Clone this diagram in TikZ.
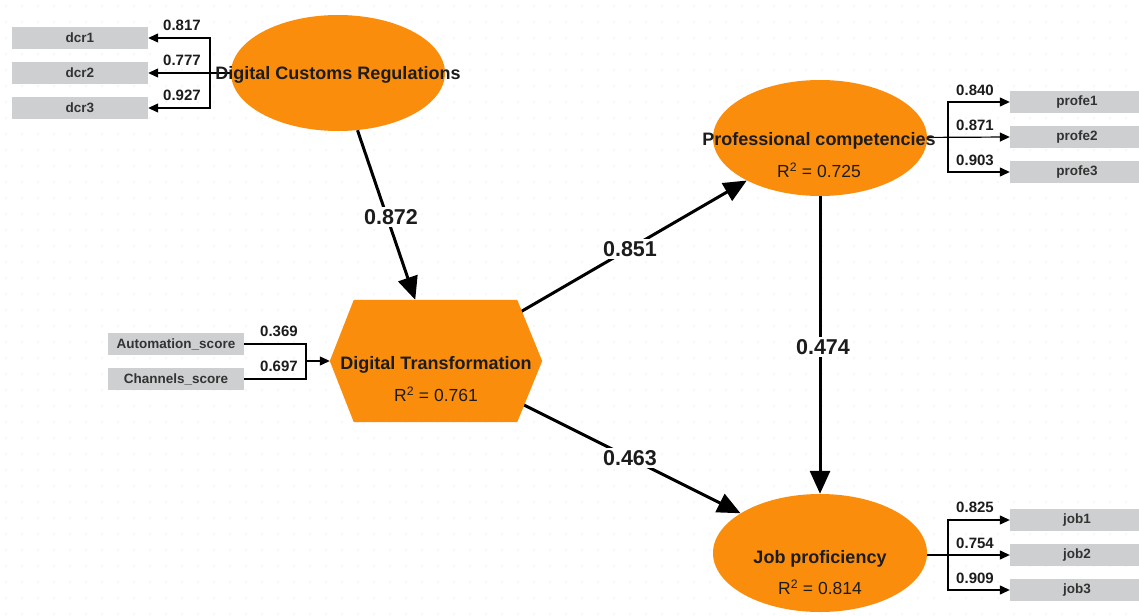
\documentclass[tikz,border=0pt]{standalone}
\usepackage{fontspec}
\setmainfont{Liberation Sans}
\usetikzlibrary{arrows.meta,shapes.geometric}
\pgfdeclarelayer{bg}
\pgfsetlayers{bg,main}
\definecolor{pls}{RGB}{250,142,12}
\definecolor{ind}{RGB}{205,207,208}
\definecolor{txt}{RGB}{28,28,28}
\begin{document}
\begin{tikzpicture}[x=1pt,y=-1pt,
 lv/.style={ellipse,fill=pls,inner sep=0pt,minimum width=214pt,minimum height=116pt},
 mv/.style={fill=ind,inner sep=0pt,minimum width=136pt,minimum height=22pt,font=\fontsize{13.5}{15}\selectfont\bfseries,text=black!80},
 lvt/.style={font=\fontsize{18}{20}\selectfont\bfseries,text=txt,inner sep=0pt},
 rt/.style={font=\fontsize{17.5}{20}\selectfont,text=txt,inner sep=0pt},
 pth/.style={line width=3pt,-{Triangle[length=23pt,width=20pt]}},
 ld/.style={line width=1.2pt,-{Triangle[length=10pt,width=9pt]}},
 ldn/.style={line width=1.2pt},
 coef/.style={fill=white,inner sep=2pt,font=\fontsize{21.5}{23}\selectfont\bfseries,text=txt},
 lw/.style={font=\fontsize{15}{17}\selectfont\bfseries,inner sep=0pt,text=txt}
]
\useasboundingbox (0,0) rectangle (1139,615);

% latent variables
\node[lv] (dcr) at (338,73) {};
\node[lv] (pc) at (820,138) {};
\node[lv,minimum height=118pt] (jp) at (820,553) {};
\node[inner sep=0pt,minimum width=212pt,minimum height=122pt] (dt) at (436,361) {};
\fill[pls] (dt.west) -- ([xshift=24pt]dt.north west) -- ([xshift=-25pt]dt.north east)
  -- (dt.east) -- ([xshift=-25pt]dt.south east) -- ([xshift=24pt]dt.south west) -- cycle;

% indicators
\node[mv] (dcr1) at (80,38) {dcr1};
\node[mv] (dcr2) at (80,73) {dcr2};
\node[mv] (dcr3) at (80,108) {dcr3};
\node[mv] (auto) at (176,344) {Automation\_score};
\node[mv] (chan) at (176,379) {Channels\_score};
\node[mv,minimum width=134pt] (p1) at (1077,102) {profe1};
\node[mv,minimum width=134pt] (p2) at (1077,137) {profe2};
\node[mv,minimum width=134pt] (p3) at (1077,172) {profe3};
\node[mv,minimum width=134pt] (j1) at (1077,520) {job1};
\node[mv,minimum width=134pt] (j2) at (1077,555) {job2};
\node[mv,minimum width=134pt] (j3) at (1077,590) {job3};

\coordinate (t1) at (210,73);
\coordinate (t2) at (306,361);
\coordinate (t3) at (948,137);
\coordinate (t4) at (948,555);

\begin{pgfonlayer}{bg}
\fill[white] (0,0) rectangle (1139,615);
\foreach \i in {0,...,71}{
  \foreach \j in {0,...,38}{
    \fill[black!13] (\i*16+6,\j*16+6) circle (0.7pt);
  }
}
% structural paths
\draw[pth] (dcr) -- (dt);
\draw[pth] (dt.center) -- (pc);
\draw[pth] (dt.center) -- (jp);
\draw[pth] (pc) -- (jp);
\node[coef] at (391,217) {0.872};
\node[coef] at (630,249) {0.851};
\node[coef] at (630,458) {0.463};
\node[coef] at (823,347) {0.474};
% measurement
\draw[ld] (dcr.center) -- (dcr2.east);
\draw[ld] (t1) |- (dcr1.east);
\draw[ld] (t1) |- (dcr3.east);
\draw[ldn] (auto.east) -| (t2);
\draw[ldn] (chan.east) -| (t2);
\draw[ld] (t2) -- (dt.west);
\draw[ld] (pc.center) -- (p2.west);
\draw[ld] (t3) |- (p1.west);
\draw[ld] (t3) |- (p3.west);
\draw[ld] (jp.center |- j2.west) -- (j2.west);
\draw[ld] (t4) |- (j1.west);
\draw[ld] (t4) |- (j3.west);
\end{pgfonlayer}

% texts
\node[lvt] at (338,75) {Digital Customs Regulations};
\node[lvt] at (436,365) {Digital Transformation};
\node[rt] at (436,394) {R\textsuperscript{2} = 0.761};
\node[lvt] at (819,141) {Professional competencies};
\node[rt] at (819,170) {R\textsuperscript{2} = 0.725};
\node[lvt] at (820,559) {Job proficiency};
\node[rt] at (820,587) {R\textsuperscript{2} = 0.814};

\node[lw] at (182,25) {0.817};
\node[lw] at (182,60) {0.777};
\node[lw] at (182,95) {0.927};
\node[lw] at (279,331) {0.369};
\node[lw] at (279,366) {0.697};
\node[lw] at (975,90) {0.840};
\node[lw] at (975,125) {0.871};
\node[lw] at (975,160) {0.903};
\node[lw] at (975,507) {0.825};
\node[lw] at (975,543) {0.754};
\node[lw] at (975,578) {0.909};
\end{tikzpicture}
\end{document}
